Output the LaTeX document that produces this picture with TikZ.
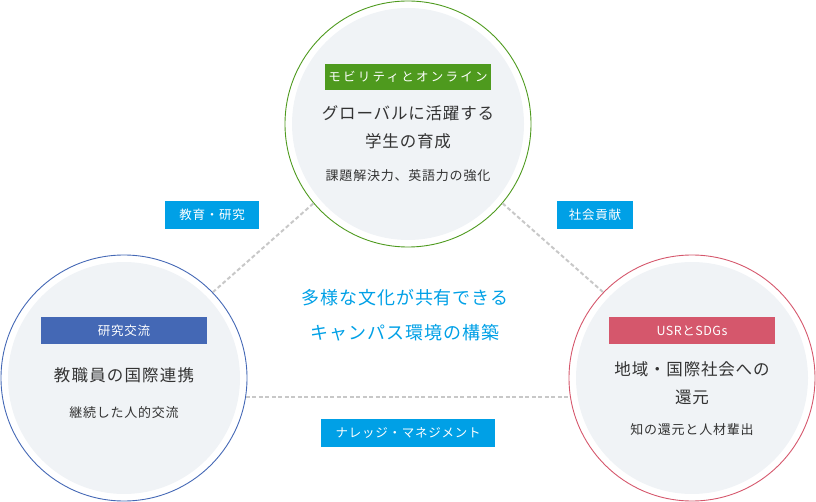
\documentclass[tikz,border=0pt]{standalone}
\usepackage{fontspec}
\setmainfont{Noto Sans CJK JP}
\definecolor{tgreen}{HTML}{4E9A1E}
\definecolor{tblue}{HTML}{4468B5}
\definecolor{tred}{HTML}{D5576C}
\definecolor{tcyan}{HTML}{00A0E6}
\definecolor{tfill}{HTML}{F0F3F6}
\definecolor{ttext}{HTML}{333333}
\definecolor{tdash}{HTML}{C8C8C8}
\tikzset{
  ring/.style={circle, draw, line width=0.9pt, minimum size=246pt, inner sep=0pt},
  tag/.style={fill=#1, text=white, minimum height=26pt, inner sep=0pt, font=\fontsize{12.5}{14}\selectfont},
  cyantag/.style={fill=tcyan, text=white, minimum height=28pt, inner sep=0pt, font=\fontsize{12.5}{14}\selectfont},
  titletext/.style={text=ttext, align=center, font=\fontsize{16.5}{28}\selectfont},
  subtext/.style={text=ttext, align=center, font=\fontsize{13}{16}\selectfont},
  link/.style={draw=tdash, line width=2pt, dash pattern=on 4pt off 2.5pt},
}
\begin{document}
\begin{tikzpicture}[x=1pt,y=-1pt]
\useasboundingbox (0,0) rectangle (816,502);
% circles
\node[ring, draw=tgreen] (T) at (408,124) {};
\node[ring, draw=tblue] (L) at (124,378) {};
\node[ring, draw=tred] (R) at (692,378) {};
\fill[tfill] (T.center) circle (116);
\fill[tfill] (L.center) circle (116);
\fill[tfill] (R.center) circle (116);
% links
\draw[link] (L.44) -- (T.220);
\draw[link] (T.320) -- (R.136);
\draw[link] (L.-9.4) -- (R.189.4);
% top circle content
\node[tag=tgreen, minimum width=166pt] (tagT) at (408,77) {\addfontfeatures{LetterSpace=18}モビリティとオンライン};
\node[titletext] (titleT) at (408,127) {\addfontfeatures{LetterSpace=5}グローバルに活躍する\\\addfontfeatures{LetterSpace=5}学生の育成};
\node[subtext] (subT) at (408,176) {\addfontfeatures{LetterSpace=6}課題解決力、英語力の強化};
% left circle content
\node[tag=tblue, minimum width=166pt] (tagL) at (124,330.5) {\addfontfeatures{LetterSpace=6}研究交流};
\node[titletext] (titleL) at (124,375) {\addfontfeatures{LetterSpace=7}教職員の国際連携};
\node[subtext] (subL) at (124,413) {\addfontfeatures{LetterSpace=6}継続した人的交流};
% right circle content
\node[tag=tred, minimum width=166pt] (tagR) at (692,330.5) {\addfontfeatures{LetterSpace=4}USRとSDGs};
\node[titletext] (titleR) at (692,383) {\addfontfeatures{LetterSpace=5}地域・国際社会への\\\addfontfeatures{LetterSpace=5}還元};
\node[subtext] (subR) at (692,430) {\addfontfeatures{LetterSpace=6}知の還元と人材輩出};
% cyan tags
\node[cyantag, minimum width=94pt] (e1) at (212,215) {\addfontfeatures{LetterSpace=6}教育・研究};
\node[cyantag, minimum width=76pt] (e2) at (595,215) {\addfontfeatures{LetterSpace=6}社会貢献};
\node[cyantag, minimum width=174pt] (e3) at (408,433) {\addfontfeatures{LetterSpace=6}ナレッジ・マネジメント};
% center text
\node[text=tcyan, align=center, font=\fontsize{18}{35}\selectfont] (center) at (405,315.5) {\addfontfeatures{LetterSpace=5}多様な文化が共有できる\\\addfontfeatures{LetterSpace=5}キャンパス環境の構築};
\end{tikzpicture}
\end{document}
